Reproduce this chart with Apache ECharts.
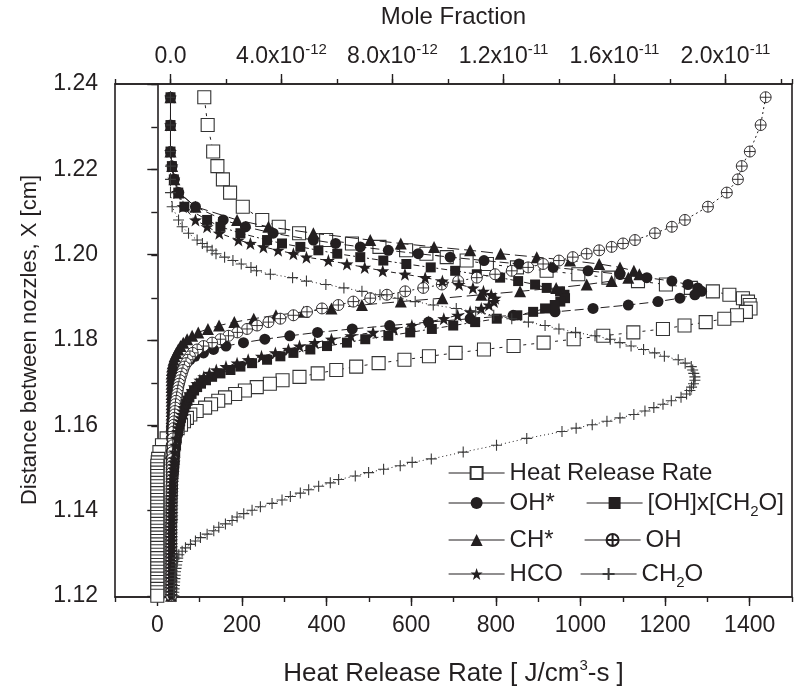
<!DOCTYPE html>
<html>
<head>
<meta charset="utf-8">
<title>Flame structure profiles</title>
<script src="https://cdn.jsdelivr.net/npm/echarts@6.0.0/dist/echarts.min.js"></script>
<style>
  html, body { margin: 0; padding: 0; background: #ffffff; }
  #chart { width: 795px; height: 695px; }
</style>
</head>
<body>
<div id="chart"></div>
<script>
// Distance between nozzles (cm) of every computed point, top to bottom
const distance = [
  1.2369, 1.2304, 1.2242, 1.2208, 1.2177, 1.2146, 1.2113, 1.2082, 1.2066, 1.2051,
  1.2035, 1.2027, 1.2019, 1.2011, 1.2003, 1.1995, 1.1987, 1.1979, 1.1971, 1.1963,
  1.1955, 1.1947, 1.1939, 1.1931, 1.1923, 1.1915, 1.1907, 1.1899, 1.1891, 1.1883,
  1.1875, 1.1867, 1.1859, 1.1851, 1.1843, 1.1835, 1.1827, 1.1819, 1.1811, 1.1803,
  1.1795, 1.1787, 1.1779, 1.1771, 1.1763, 1.1755, 1.1747, 1.1739, 1.1731, 1.1723,
  1.1715, 1.1707, 1.1699, 1.1691, 1.1683, 1.1675, 1.1667, 1.1659, 1.1651, 1.1643,
  1.1635, 1.1627, 1.1619, 1.1611, 1.1603, 1.1595, 1.1587,
  1.1571, 1.1555, 1.1539, 1.1523,
  1.1515, 1.1507, 1.1499, 1.1491, 1.1483, 1.1475, 1.1467, 1.1459, 1.1451, 1.1443,
  1.1435, 1.1427, 1.1419, 1.1411, 1.1403, 1.1395, 1.1387, 1.1379, 1.1371, 1.1363,
  1.1355, 1.1347, 1.1339, 1.1331, 1.1323, 1.1315, 1.1307, 1.1299, 1.1291, 1.1283,
  1.1275, 1.1267, 1.1259, 1.1251, 1.1243, 1.1235, 1.1227, 1.1219, 1.1211, 1.1203
];

// Heat release rate (J/cm^3-s)
const heatRelease = [
  111, 119, 132, 142, 155, 172, 202, 248, 287, 335,
  399, 460, 525, 588, 636, 684, 731, 779, 850, 920,
  995, 1066, 1136, 1202, 1261, 1313, 1352, 1384, 1396, 1400,
  1402, 1391, 1370, 1340, 1296, 1246, 1195, 1125, 1054, 984,
  913, 842, 772, 705, 642, 584, 523, 470, 423, 379,
  336, 296, 266, 235, 207, 184, 160, 144, 127, 113,
  93, 78, 70, 63, 56, 48, 38,
  22, 11, 5, 2,
  1, 0, 0, 0, 0, 0, 0, 0, 0, 0,
  0, 0, 0, 0, 0, 0, 0, 0, 0, 0,
  0, 0, 0, 0, 0, 0, 0, 0, 0, 0,
  0, 0, 0, 0, 0, 0, 0, 0, 0, 0
];

// Species profiles, in units of 1e-12 (mole fraction scale)
const ohStar = [
  0, 0, 0, 0.06, 0.14, 0.3, 0.9, 1.9, 2.7, 3.7,
  5.15, 5.95, 6.84, 7.85, 8.93, 10.08, 11.3, 12.56, 13.79, 15.05,
  16.2, 17.17, 18.07, 18.65, 19.0, 19.14, 18.9, 18.36, 17.57, 16.5,
  15.23, 13.86, 12.35, 10.8, 9.3, 7.9, 6.55, 5.3, 4.3, 3.4,
  2.63, 2.0, 1.55, 1.19, 0.88, 0.7, 0.58, 0.48, 0.4, 0.34,
  0.29, 0.25, 0.21, 0.18, 0.16, 0.14, 0.12, 0.11, 0.1, 0.09,
  0.08, 0.07, 0.07, 0.06, 0.06, 0.05, 0.05,
  0.04, 0.04, 0.04, 0.03,
  0.03, 0.03, 0.03, 0.03, 0.03, 0.03, 0.03, 0.03, 0.03, 0.03,
  0.02, 0.02, 0.02, 0.02, 0.02, 0.02, 0.02, 0.02, 0.02, 0.02,
  0.02, 0.02, 0.02, 0.02, 0.02, 0.02, 0.02, 0.02, 0.02, 0.02,
  0.02, 0.02, 0.02, 0.02, 0.02, 0.02, 0.02, 0.02, 0.02, 0.02
];

const ohTimesCh2o = [
  0, 0, 0, 0.05, 0.12, 0.28, 0.5, 1.32, 1.8, 2.52,
  3.48, 4.02, 4.68, 5.33, 6.01, 6.84, 7.67, 8.5, 9.38, 10.26,
  11.04, 11.88, 12.53, 13.14, 13.56, 14.04, 14.2, 14.22, 14.05, 13.85,
  13.5, 13.07, 12.5, 11.76, 10.98, 10.19, 9.42, 8.64, 7.85, 7.02,
  6.36, 5.64, 5.04, 4.43, 3.96, 3.48, 2.94, 2.52, 2.16, 1.8,
  1.5, 1.28, 1.1, 0.96, 0.85, 0.76, 0.68, 0.61, 0.55, 0.5,
  0.46, 0.42, 0.38, 0.35, 0.32, 0.29, 0.27,
  0.23, 0.2, 0.17, 0.15,
  0.14, 0.13, 0.12, 0.11, 0.1, 0.09, 0.08, 0.08, 0.07, 0.07,
  0.06, 0.06, 0.06, 0.05, 0.05, 0.05, 0.05, 0.05, 0.05, 0.05,
  0.04, 0.04, 0.04, 0.04, 0.04, 0.04, 0.04, 0.04, 0.04, 0.04,
  0.04, 0.04, 0.04, 0.04, 0.04, 0.04, 0.04, 0.04, 0.04, 0.04
];

const chStar = [
  0, 0, 0, 0.06, 0.14, 0.3, 0.9, 2.4, 3.53, 5.15,
  7.2, 8.3, 9.5, 10.8, 11.9, 13.2, 14.4, 15.45, 16.2, 16.7,
  16.9, 16.5, 15.9, 15.0, 13.9, 12.6, 11.2, 9.8, 8.3, 6.9,
  5.8, 4.8, 3.8, 3.0, 2.3, 1.75, 1.35, 1.0, 0.78, 0.6,
  0.46, 0.36, 0.28, 0.21, 0.15, 0.11, 0.08, 0.06, 0.05, 0.04,
  0.04, 0.04, 0.04, 0.04, 0.04, 0.04, 0.04, 0.04, 0.04, 0.04,
  0.04, 0.04, 0.04, 0.04, 0.04, 0.04, 0.04,
  0.04, 0.03, 0.03, 0.03,
  0.03, 0.03, 0.03, 0.03, 0.03, 0.03, 0.03, 0.03, 0.03, 0.03,
  0.03, 0.03, 0.02, 0.02, 0.02, 0.02, 0.02, 0.02, 0.02, 0.02,
  0.02, 0.02, 0.02, 0.02, 0.02, 0.02, 0.02, 0.02, 0.02, 0.02,
  0.02, 0.02, 0.02, 0.02, 0.02, 0.02, 0.02, 0.02, 0.02, 0.02
];

const oh = [
  21.45, 21.27, 20.88, 20.59, 20.45, 20.05, 19.37, 18.54, 18.07, 17.46,
  16.74, 16.31, 15.9, 15.45, 15.0, 14.5, 14.0, 13.43, 12.89, 12.3,
  11.7, 11.04, 10.37, 9.78, 9.11, 8.46, 7.8, 7.2, 6.59, 6.05,
  5.46, 4.92, 4.43, 3.96, 3.53, 3.12, 2.76, 2.41, 2.09, 1.8,
  1.5, 1.19, 0.96, 0.8, 0.7, 0.62, 0.56, 0.5, 0.45, 0.41,
  0.37, 0.34, 0.31, 0.28, 0.26, 0.24, 0.22, 0.2, 0.18, 0.17,
  0.16, 0.15, 0.14, 0.13, 0.12, 0.11, 0.1,
  0.09, 0.08, 0.07, 0.06,
  0.06, 0.06, 0.05, 0.05, 0.05, 0.05, 0.05, 0.04, 0.04, 0.04,
  0.04, 0.04, 0.04, 0.04, 0.04, 0.04, 0.04, 0.04, 0.03, 0.03,
  0.03, 0.03, 0.03, 0.03, 0.03, 0.03, 0.03, 0.03, 0.03, 0.03,
  0.03, 0.03, 0.03, 0.03, 0.03, 0.03, 0.03, 0.03, 0.03, 0.03
];

const hco = [
  0, 0, 0, 0.05, 0.12, 0.25, 0.45, 0.9, 1.32, 1.76,
  2.45, 2.88, 3.35, 3.88, 4.43, 4.9, 5.69, 6.36, 7.0, 7.65,
  8.45, 9.18, 9.8, 10.4, 10.9, 11.28, 11.56, 11.7, 11.66, 11.48,
  11.2, 10.8, 10.35, 9.85, 9.3, 8.7, 8.05, 7.3, 6.5, 5.8,
  5.2, 4.65, 4.25, 3.78, 3.28, 2.8, 2.4, 2.0, 1.65, 1.4,
  1.2, 1.06, 0.95, 0.86, 0.78, 0.7, 0.64, 0.58, 0.53, 0.48,
  0.44, 0.4, 0.37, 0.34, 0.31, 0.28, 0.26,
  0.22, 0.19, 0.16, 0.14,
  0.13, 0.12, 0.11, 0.1, 0.09, 0.08, 0.08, 0.07, 0.07, 0.06,
  0.06, 0.05, 0.05, 0.05, 0.05, 0.05, 0.05, 0.05, 0.04, 0.04,
  0.04, 0.04, 0.04, 0.04, 0.04, 0.04, 0.04, 0.04, 0.04, 0.04,
  0.04, 0.04, 0.04, 0.04, 0.04, 0.04, 0.04, 0.04, 0.04, 0.04
];

const ch2o = [
  0, 0, 0, 0, 0, 0, 0.06, 0.29, 0.42, 0.65,
  0.96, 1.15, 1.32, 1.5, 1.64, 1.95, 2.25, 2.55, 2.9, 3.1,
  3.6, 4.4, 4.9, 5.6, 6.25, 6.9, 7.55, 8.2, 8.82, 9.47,
  10.3, 11.0, 11.65, 12.3, 12.9, 13.5, 14.0, 14.6, 15.3, 15.85,
  16.2, 16.6, 17.05, 17.45, 17.8, 18.3, 18.55, 18.77, 18.82, 18.86,
  18.9, 18.9, 18.85, 18.78, 18.72, 18.6, 18.4, 18.05, 17.75, 17.42,
  17.1, 16.7, 16.2, 15.73, 15.2, 14.62, 14.11,
  12.84, 11.75, 10.55, 9.4,
  8.71, 8.28, 7.68, 7.14, 6.66, 6.06, 5.76, 5.34, 4.98, 4.68,
  4.32, 4.02, 3.66, 3.24, 2.94, 2.64, 2.4, 2.22, 1.98, 1.74,
  1.56, 1.32, 1.08, 0.9, 0.72, 0.54, 0.42, 0.3, 0.26, 0.24,
  0.22, 0.2, 0.18, 0.17, 0.16, 0.15, 0.14, 0.13, 0.12, 0.12
];

// Labelled tick positions
const hrrTicks = [0, 200, 400, 600, 800, 1000, 1200, 1400];
const moleTicks = [0, 4.0e-12, 8.0e-12, 1.2e-11, 1.6e-11, 2.0e-11];
const distTicks = [1.12, 1.14, 1.16, 1.18, 1.20, 1.22, 1.24];

const MOLE_UNIT = 1e-12;
const INK = '#231f20';
const FONT = '"Liberation Sans", Arial, Helvetica, sans-serif';

// Marker outlines
const STAR = 'path://M0,-10L2.35,-3.24L9.51,-3.09L3.8,1.24L5.88,8.09L0,4L-5.88,8.09L-3.8,1.24L-9.51,-3.09L-2.35,-3.24Z';
const CIRCLE_PLUS = 'path://M10,0A10,10,0,1,1,-10,0A10,10,0,1,1,10,0ZM-10,0L10,0M0,-10L0,10';
const PLUS = 'path://M-10,0L10,0M0,-10L0,10';

const curves = [
  { name: 'Heat Release Rate', values: heatRelease, scale: 1, axis: 0,
    symbol: 'rect', size: 13, fill: '#ffffff', edge: '#333333', edgeWidth: 1.1, dash: [3, 5] },
  { name: 'OH*', values: ohStar, scale: MOLE_UNIT, axis: 1,
    symbol: 'circle', size: 11, fill: INK, edge: INK, edgeWidth: 0, dash: [9, 4] },
  { name: '[OH]x[CH2O]', values: ohTimesCh2o, scale: MOLE_UNIT, axis: 1,
    symbol: 'rect', size: 10, fill: INK, edge: INK, edgeWidth: 0, dash: [6, 3, 2, 3] },
  { name: 'CH*', values: chStar, scale: MOLE_UNIT, axis: 1,
    symbol: 'triangle', size: 12, fill: INK, edge: INK, edgeWidth: 0, dash: [12, 5] },
  { name: 'OH', values: oh, scale: MOLE_UNIT, axis: 1,
    symbol: CIRCLE_PLUS, size: 11, fill: '#ffffff', edge: INK, edgeWidth: 0.9, dash: [2, 3] },
  { name: 'HCO', values: hco, scale: MOLE_UNIT, axis: 1,
    symbol: STAR, size: 13, fill: INK, edge: INK, edgeWidth: 0, dash: [5, 4] },
  { name: 'CH2O', values: ch2o, scale: MOLE_UNIT, axis: 1,
    symbol: PLUS, size: 11, fill: INK, edge: '#3a3a3a', edgeWidth: 1.1, dash: [1, 3] }
];

const series = curves.map(function (c, idx) {
  return {
    type: 'line',
    name: c.name,
    xAxisIndex: c.axis,
    yAxisIndex: 0,
    data: c.values.map(function (v, i) { return [v * c.scale, distance[i]]; }),
    symbol: c.symbol,
    symbolSize: c.size,
    showSymbol: true,
    showAllSymbol: true,
    clip: false,
    silent: true,
    z: 2 + idx,
    lineStyle: { color: INK, width: 1, type: c.dash },
    itemStyle: { color: c.fill, borderColor: c.edge, borderWidth: c.edgeWidth }
  };
});

function subscriptName(name) {
  return name.replace('CH2O', 'CH{sub|2}O');
}

const legendText = {
  fontFamily: FONT, fontSize: 24, color: INK, lineHeight: 32,
  rich: { sub: { fontFamily: FONT, fontSize: 15, lineHeight: 15, verticalAlign: 'bottom', color: INK } }
};

// each entry is placed on its own so the two legend columns line up
function legendAt(name, left, top) {
  return {
    data: [name], left: left, top: top, orient: 'horizontal',
    padding: 0, itemGap: 0, itemWidth: 56, itemHeight: 15,
    selectedMode: false,
    lineStyle: { type: 'solid', width: 1.2, color: INK },
    textStyle: legendText,
    formatter: subscriptName
  };
}

function moleLabel(v) {
  if (v === 0) return '0.0';
  const exp = Math.floor(Math.log10(v) + 1e-9);
  const mant = v / Math.pow(10, exp);
  return mant.toFixed(1) + 'x10{sup|' + exp + '}';
}

const labelFont = { fontFamily: FONT, fontSize: 23, color: INK };
const axisLine = { show: true, lineStyle: { color: INK, width: 1.6 } };
const noLine = { show: false };
const supStyle = { fontFamily: FONT, fontSize: 15, lineHeight: 15, verticalAlign: 'top', color: INK };

const option = {
  animation: false,
  backgroundColor: '#ffffff',
  textStyle: { fontFamily: FONT },
  grid: [
    { left: 115, right: 3, top: 84, bottom: 98, show: true, borderColor: INK, borderWidth: 1.6, backgroundColor: 'transparent', containLabel: false },
    { left: 115, right: 3, top: 84, bottom: 98, show: false, containLabel: false }
  ],
  xAxis: [
    { // heat release rate, bottom, minor ticks every 100
      type: 'value', gridIndex: 0, position: 'bottom', min: -100, max: 1500, interval: 100,
      axisLine: axisLine, splitLine: { show: false },
      axisTick: { show: true, inside: false, length: 5, lineStyle: { color: INK, width: 1.4 } },
      axisLabel: { show: false }
    },
    { // mole fraction, top, minor ticks every 2e-12
      type: 'value', gridIndex: 0, position: 'top', min: -2e-12, max: 2.24e-11, interval: 2e-12,
      axisLine: axisLine, splitLine: { show: false },
      axisTick: { show: true, inside: false, length: 5, lineStyle: { color: INK, width: 1.4 } },
      axisLabel: { show: false }
    },
    { // labelled heat release ticks
      type: 'value', gridIndex: 1, position: 'bottom', min: -100, max: 1500,
      axisLine: noLine, splitLine: { show: false },
      axisTick: { show: true, inside: false, length: 10, customValues: hrrTicks, lineStyle: { color: INK, width: 1.4 } },
      axisLabel: Object.assign({ show: true, margin: 18, customValues: hrrTicks,
        formatter: function (v) { return String(v); } }, labelFont),
      name: 'Heat Release Rate [ J/cm{sup|3}-s ]', nameLocation: 'middle', nameGap: 62,
      nameTextStyle: {
        fontFamily: FONT, fontSize: 26, color: INK, lineHeight: 32,
        rich: { sup: supStyle }
      }
    },
    { // labelled mole fraction ticks
      type: 'value', gridIndex: 1, position: 'top', min: -2e-12, max: 2.24e-11,
      axisLine: noLine, splitLine: { show: false },
      axisTick: { show: true, inside: false, length: 10, customValues: moleTicks, lineStyle: { color: INK, width: 1.4 } },
      axisLabel: Object.assign({
        show: true, margin: 12, customValues: moleTicks, formatter: moleLabel, lineHeight: 30,
        rich: { sup: supStyle }
      }, labelFont),
      name: 'Mole Fraction', nameLocation: 'middle', nameGap: 55,
      nameTextStyle: { fontFamily: FONT, fontSize: 24, color: INK }
    }
  ],
  yAxis: [
    {
      type: 'value', gridIndex: 0, position: 'left', min: 1.12, max: 1.24, interval: 0.01,
      axisLine: axisLine, splitLine: { show: false },
      axisTick: { show: true, inside: false, length: 6, lineStyle: { color: INK, width: 1.4 } },
      axisLabel: { show: false }
    },
    {
      type: 'value', gridIndex: 1, position: 'left', min: 1.12, max: 1.24,
      axisLine: noLine, splitLine: { show: false },
      axisTick: { show: true, inside: false, length: 10, customValues: distTicks, lineStyle: { color: INK, width: 1.4 } },
      axisLabel: Object.assign({ show: true, margin: 17, customValues: distTicks,
        formatter: function (v) { return v.toFixed(2); } }, labelFont),
      name: 'Distance between nozzles, X [cm]', nameLocation: 'middle', nameGap: 74, nameRotate: 90,
      nameTextStyle: { fontFamily: FONT, fontSize: 22, color: INK }
    }
  ],
  legend: [
    legendAt('Heat Release Rate', 448, 457),
    legendAt('OH*', 448, 487),
    legendAt('[OH]x[CH2O]', 586, 487),
    legendAt('CH*', 448, 524),
    legendAt('OH', 584, 524),
    legendAt('HCO', 448, 558),
    legendAt('CH2O', 580, 558)
  ],
  series: series
};

const chart = echarts.init(document.getElementById('chart'), null, { renderer: 'canvas' });
chart.setOption(option);
</script>
</body>
</html>
